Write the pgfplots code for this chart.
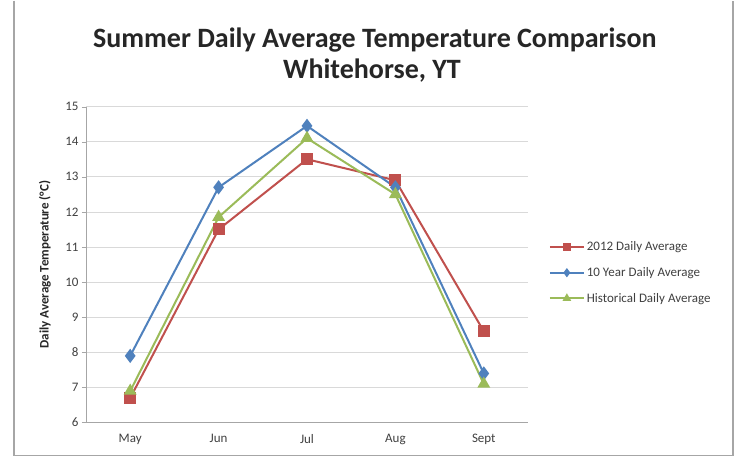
\documentclass[border=0pt]{standalone}
\usepackage{pgfplots}
\pgfplotsset{compat=1.18}
\usepackage{fontspec}
\setmainfont{Carlito}
\definecolor{cred}{HTML}{C0504D}
\definecolor{cblue}{HTML}{4F81BD}
\definecolor{cgreen}{HTML}{9BBB59}
\definecolor{gridc}{HTML}{D9D9D9}
\definecolor{axc}{HTML}{A6A6A6}
\begin{document}
\begin{tikzpicture}[x=1pt,y=1pt]
\path[fill=white] (0,0) rectangle (740,457);
\draw[gray!70, line width=1.2pt] (14,457) -- (14,2) -- (733,2) -- (733,457);
\node[font=\fontsize{28}{30}\selectfont\bfseries, text=black!85, anchor=base] at (375,410) {Summer Daily Average Temperature Comparison};
\node[font=\fontsize{28}{30}\selectfont\bfseries, text=black!85, anchor=base] at (372,379) {Whitehorse, YT};
\begin{axis}[
  at={(86pt,35pt)}, anchor=south west,
  scale only axis, width=442pt, height=316pt,
  xmin=-0.5, xmax=4.5, ymin=6, ymax=15,
  xtick={0,...,4}, xticklabels={May,Jun,Jul,Aug,Sept},
  major x tick style={draw=none},
  extra x ticks={-0.5,0.5,1.5,2.5,3.5,4.5},
  extra x tick labels={},
  extra x tick style={grid=none, major tick length=4pt, tick style={axc}},
  ytick={6,...,15},
  ymajorgrids, grid style={gridc, line width=0.8pt},
  tick align=outside, major tick length=4pt,
  tick style={axc},
  axis x line*=bottom, axis y line*=left,
  axis line style={axc, line width=0.8pt},
  x axis line style={-}, y axis line style={-},
  tick label style={font=\fontsize{13}{15}\selectfont, text=black!75},
  /pgf/number format/assume math mode=true,
  ylabel={Daily Average Temperature (°C)},
  ylabel style={font=\fontsize{13}{15}\selectfont\bfseries, text=black!85, at={(axis description cs:-0.093,0.5)}, anchor=center, rotate=0},
  xticklabel style={yshift=-4pt},
  legend style={draw=none, fill=none, at={(1.04,0.585)}, anchor=north west,
    font=\fontsize{13}{15}\selectfont, text=black!75, row sep=11pt,
    /tikz/every even column/.append style={column sep=1pt}},
  legend cell align=left,
  legend image code/.code={\draw[mark repeat=2,mark phase=2,#1, mark size=3pt] plot coordinates {(0pt,0pt)(17pt,0pt)(34pt,0pt)};},
]
\addplot[cred, line width=2pt, mark=square*, mark size=5pt, mark options={solid, fill=cred}]
  coordinates {(0,6.7) (1,11.5) (2,13.5) (3,12.9) (4,8.6)};
\addlegendentry{2012 Daily Average}
\addplot[cblue, line width=2pt, mark=diamond*, mark size=5.5pt, mark options={solid, fill=cblue}]
  coordinates {(0,7.9) (1,12.7) (2,14.45) (3,12.7) (4,7.4)};
\addlegendentry{10 Year Daily Average}
\addplot[cgreen, line width=2pt, mark=triangle*, mark size=5.5pt, mark options={solid, fill=cgreen}]
  coordinates {(0,6.9) (1,11.85) (2,14.1) (3,12.5) (4,7.1)};
\addlegendentry{Historical Daily Average}
\end{axis}
\end{tikzpicture}
\end{document}
